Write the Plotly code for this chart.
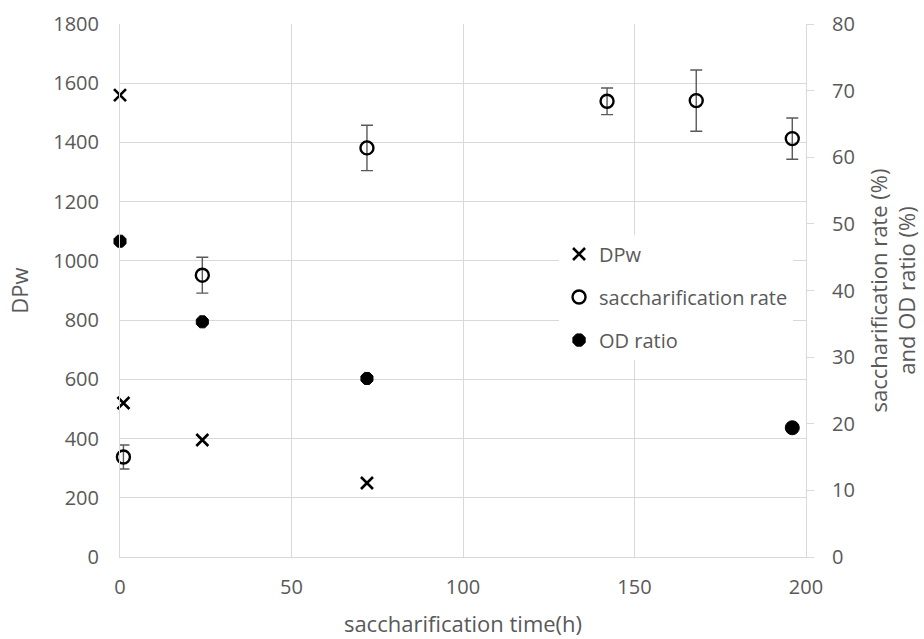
import plotly.graph_objects as go

# DPw (left axis)
dpw_time = [0, 1, 24, 72]
dpw_val = [1560, 520, 395, 250]

# saccharification rate (%) (right axis)
sac_time = [1, 24, 72, 142, 168, 196]
sac_val = [15.0, 42.3, 61.4, 68.4, 68.5, 62.8]
sac_err = [1.8, 2.7, 3.4, 2.0, 4.6, 3.1]

# OD ratio (%) (right axis)
od_time = [0, 24, 72, 196]
od_val = [47.4, 35.3, 26.8, 19.4]
od_symbols = ["octagon", "octagon", "octagon", "circle"]

x_ticks = [0, 50, 100, 150, 200]
y_ticks = [0, 200, 400, 600, 800, 1000, 1200, 1400, 1600, 1800]
y2_ticks = [0, 10, 20, 30, 40, 50, 60, 70, 80]

FONT = "Open Sans"
TXT = "#595959"
GRID = "#d9d9d9"

fig = go.Figure()
fig.add_trace(go.Scatter(
    x=dpw_time, y=dpw_val, mode="markers", name="DPw",
    legendgroup="a",
    marker=dict(symbol="x-thin", size=12, color="#000000", opacity=1,
                line=dict(color="#000000", width=2.6)),
    cliponaxis=False,
))
fig.add_trace(go.Scatter(
    x=sac_time, y=sac_val, mode="markers", name="saccharification rate",
    legendgroup="b", yaxis="y2",
    marker=dict(symbol="circle-open", size=13, color="#000000", opacity=1,
                line=dict(color="#000000", width=2.4)),
    error_y=dict(type="data", array=sac_err, visible=True,
                 color="#595959", thickness=1.4, width=6),
    cliponaxis=False,
))
fig.add_trace(go.Scatter(
    x=od_time, y=od_val, mode="markers", name="OD ratio",
    legendgroup="c", yaxis="y2",
    marker=dict(symbol=od_symbols, size=[13, 13, 13, 14], color="#000000",
                opacity=1, line=dict(color="#000000", width=1)),
    cliponaxis=False,
))

fig.update_layout(
    width=924, height=639,
    margin=dict(l=120, r=118, t=24, b=82),
    paper_bgcolor="white", plot_bgcolor="white",
    font=dict(family=FONT, size=20, color=TXT),
    showlegend=True,
    legend=dict(
        x=0.64, y=0.605, xanchor="left", yanchor="top",
        bgcolor="white", borderwidth=0,
        font=dict(family=FONT, size=20, color=TXT),
        traceorder="grouped", tracegroupgap=14,
        itemwidth=30,
    ),
    xaxis=dict(
        range=[0, 200], tickvals=x_ticks,
        showgrid=True, gridcolor=GRID, gridwidth=1,
        showline=True, linecolor=GRID, linewidth=1,
        zeroline=False, ticks="", ticklabelstandoff=12,
        tickfont=dict(family=FONT, size=20, color=TXT),
        title=dict(text="saccharification time(h)",
                   font=dict(family=FONT, size=22, color=TXT), standoff=17),
        automargin=False,
    ),
    yaxis=dict(
        range=[0, 1800], tickvals=y_ticks,
        showgrid=True, gridcolor=GRID, gridwidth=1,
        showline=True, linecolor=GRID, linewidth=1,
        zeroline=False, ticks="", ticklabelstandoff=16,
        tickfont=dict(family=FONT, size=20, color=TXT),
        title=dict(text="DPw", font=dict(family=FONT, size=22, color=TXT),
                   standoff=18),
        automargin=False,
    ),
    yaxis2=dict(
        range=[0, 80], tickvals=y2_ticks, overlaying="y", side="right",
        showgrid=False, showline=True, linecolor=GRID, linewidth=1,
        zeroline=False, ticks="outside", ticklen=7, tickcolor=GRID,
        ticklabelstandoff=14,
        tickfont=dict(family=FONT, size=20, color=TXT),
        title=dict(text="saccharification rate (%)<br>and OD ratio (%)",
                   font=dict(family=FONT, size=22, color=TXT), standoff=17),
        automargin=False,
    ),
)

fig.write_html("out.html")
